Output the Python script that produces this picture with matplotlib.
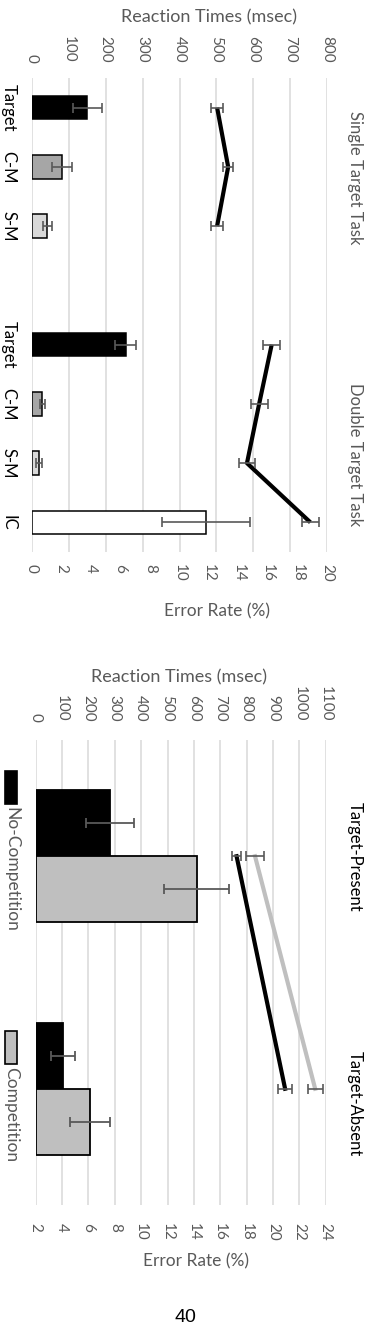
import numpy as np
import matplotlib
matplotlib.use("Agg")
import matplotlib.pyplot as plt
from matplotlib.patches import Rectangle

plt.rcParams['font.family'] = ['Lato', 'DejaVu Sans']

# top chart: single vs double target task
single_labels = ['Target', 'C-M', 'S-M']
double_labels = ['Target', 'C-M', 'S-M', 'IC']
single_err = [3.75, 2.05, 1.05]
single_err_sd = [1.0, 0.67, 0.32]
single_rt = [502, 532, 502]
single_rt_sd = [16, 14, 17]
double_err = [6.35, 0.7, 0.5, 11.8]
double_err_sd = [0.71, 0.15, 0.2, 2.96]
double_rt = [650, 616, 583, 755]
double_rt_sd = [23, 23, 23, 23]
bar_colors = ['black', '#a6a6a6', '#d9d9d9', 'white']

# bottom chart: target present / absent
conditions = ['Target-Present', 'Target-Absent']
nocomp_err = [7.65, 4.05]
nocomp_err_sd = [1.8, 0.9]
comp_err = [14.2, 6.1]
comp_err_sd = [2.5, 1.5]
nocomp_rt = [762, 946]
nocomp_rt_sd = [18, 27]
comp_rt = [832, 1060]
comp_rt_sd = [35, 28]

W, H = 366, 1330
fig = plt.figure(figsize=(W / 100, H / 100), dpi=100)
GRAY = '#595959'


def box(x0, y0, x1, y1):
    return [x0 / W, 1 - y1 / H, (x1 - x0) / W, (y1 - y0) / H]


def ftext(x, y, s, **kw):
    fig.text(x / W, 1 - y / H, s, **kw)


def style_axes(ax_rt, ax_er, rt_ticks, er_ticks, top_pad, bot_pad):
    ax_rt.xaxis.tick_top()
    ax_er.xaxis.tick_bottom()
    ax_rt.set_xticks(rt_ticks)
    ax_rt.set_xlim(rt_ticks[0], rt_ticks[-1])
    ax_er.set_xticks(er_ticks)
    ax_er.set_xlim(er_ticks[0], er_ticks[-1])
    ax_rt.grid(True, axis='x', color='#d9d9d9', lw=1.1)
    ax_rt.set_axisbelow(True)
    ax_rt.tick_params(axis='x', length=0, labelsize=11, labelcolor=GRAY,
                      labelrotation=-90, pad=top_pad)
    ax_er.tick_params(axis='x', length=0, labelsize=11, labelcolor=GRAY,
                      labelrotation=-90, pad=bot_pad)
    for a in (ax_rt, ax_er):
        for sp in a.spines.values():
            sp.set_visible(False)


# ---------- top chart ----------
ax1 = fig.add_axes(box(32, 78, 327, 552))
ax1e = ax1.twiny()
style_axes(ax1, ax1e, np.arange(0, 801, 100), np.arange(0, 21, 2), 11, 9)

y_single = np.array([0, 1, 2])
y_double = np.array([4, 5, 6, 7])
ax1.set_ylim(7.5, -0.5)
ax1.set_yticks(list(y_single) + list(y_double))
ax1.set_yticklabels(single_labels + double_labels)
ax1.tick_params(axis='y', length=0, labelsize=12, labelcolor='black',
                labelrotation=-90, pad=11)
plt.setp(ax1.get_yticklabels(), va='center')

ax1e.barh(y_single, single_err, height=0.4, color=bar_colors[:3],
          edgecolor='black', lw=1.1)
ax1e.barh(y_double, double_err, height=0.4, color=bar_colors,
          edgecolor='black', lw=1.1)
ax1e.errorbar(single_err + double_err, list(y_single) + list(y_double),
              xerr=single_err_sd + double_err_sd, fmt='none', ecolor=GRAY,
              elinewidth=1.2, capsize=3.3, capthick=1.2)

for rt, sd, yy in ((single_rt, single_rt_sd, y_single),
                   (double_rt, double_rt_sd, y_double)):
    ax1.plot(rt, yy, color='black', lw=3, solid_capstyle='butt')
    ax1.errorbar(rt, yy, xerr=sd, fmt='none', ecolor=GRAY,
                 elinewidth=1.2, capsize=3.3, capthick=1.2)

ftext(209, 17, 'Reaction Times (msec)', ha='center', va='center',
      fontsize=13, color=GRAY)
ftext(217, 611, 'Error Rate (%)', ha='center', va='center',
      fontsize=12.5, color=GRAY)
ftext(355, 178, 'Single Target Task', ha='center', va='center',
      rotation=-90, fontsize=12, color=GRAY)
ftext(355, 455, 'Double Target Task', ha='center', va='center',
      rotation=-90, fontsize=12, color=GRAY)

# ---------- bottom chart ----------
ax2 = fig.add_axes(box(35.7, 740, 325.7, 1205))
ax2e = ax2.twiny()
style_axes(ax2, ax2e, np.arange(0, 1101, 100), np.arange(2, 25, 2), 13, 13)
ax2.set_ylim(1.5, -0.5)
ax2.set_yticks([])

yc = np.arange(len(conditions))
off = 0.142
base = 2
ax2e.barh(yc - off, np.array(nocomp_err) - base, left=base, height=0.284,
          color='black', edgecolor='black', lw=1.3)
ax2e.barh(yc + off, np.array(comp_err) - base, left=base, height=0.284,
          color='#bfbfbf', edgecolor='black', lw=1.3)
ax2e.errorbar(nocomp_err, yc - off, xerr=nocomp_err_sd, fmt='none',
              ecolor=GRAY, elinewidth=1.3, capsize=3.3, capthick=1.3)
ax2e.errorbar(comp_err, yc + off, xerr=comp_err_sd, fmt='none',
              ecolor=GRAY, elinewidth=1.3, capsize=3.3, capthick=1.3)

ax2.plot(nocomp_rt, yc, color='black', lw=3)
ax2.plot(comp_rt, yc, color='#bfbfbf', lw=3)
ax2.errorbar(nocomp_rt, yc, xerr=nocomp_rt_sd, fmt='none', ecolor=GRAY,
             elinewidth=1.2, capsize=3.3, capthick=1.2)
ax2.errorbar(comp_rt, yc, xerr=comp_rt_sd, fmt='none', ecolor=GRAY,
             elinewidth=1.2, capsize=3.3, capthick=1.2)

ftext(179, 677, 'Reaction Times (msec)', ha='center', va='center',
      fontsize=13, color=GRAY)
ftext(196, 1261, 'Error Rate (%)', ha='center', va='center',
      fontsize=12.5, color=GRAY)
ftext(355, 857, conditions[0], ha='center', va='center', rotation=-90,
      fontsize=12, color='black')
ftext(355, 1104, conditions[1], ha='center', va='center', rotation=-90,
      fontsize=12, color='black')

# legend drawn sideways like the rest of the page
for (y0, y1), label, col in (((771, 804), 'No-Competition', 'black'),
                             ((1031, 1064), 'Competition', '#bfbfbf')):
    fig.patches.append(Rectangle((5 / W, 1 - y1 / H), 12 / W, (y1 - y0) / H,
                                 transform=fig.transFigure, facecolor=col,
                                 edgecolor='black', lw=1.2))
    ftext(11, y1 + 3, label, ha='center', va='top', rotation=-90,
          fontsize=12.5, color=GRAY)

ftext(185, 1317, '40', ha='center', va='center', fontsize=14,
      color='black', family=['Liberation Sans', 'DejaVu Sans'])

fig.savefig("out.png", dpi=100)
